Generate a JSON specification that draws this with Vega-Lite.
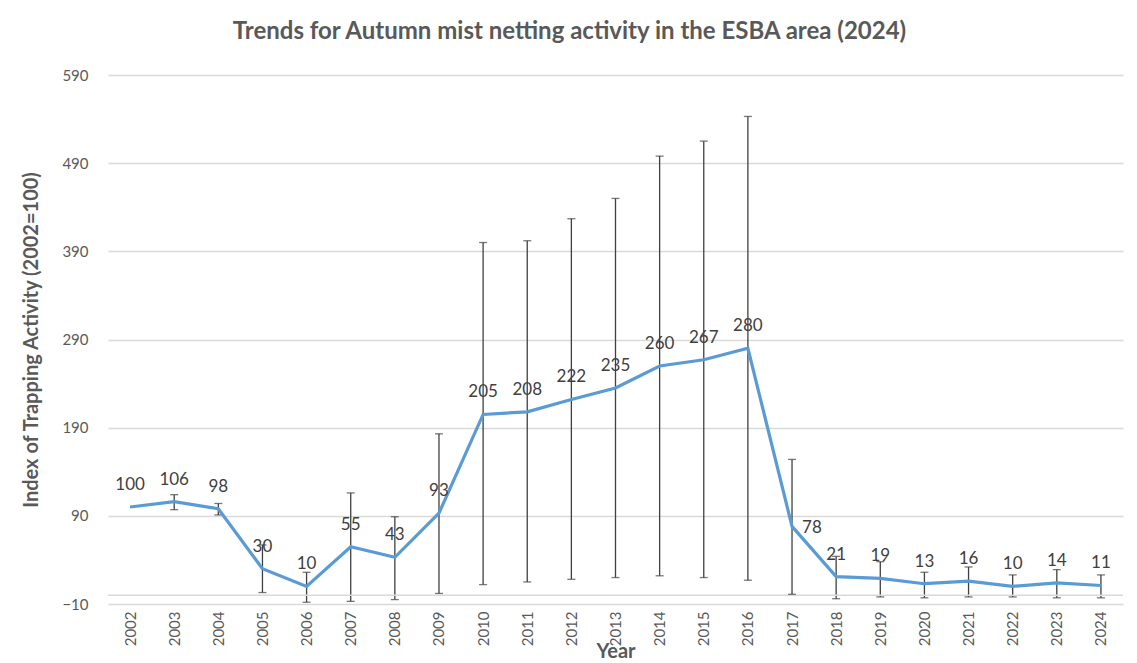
{
  "$schema": "https://vega.github.io/schema/vega-lite/v6.json",
  "autosize": "none",
  "width": 1015,
  "height": 529,
  "padding": {"left": 108, "top": 75, "right": 14, "bottom": 59},
  "background": "white",
  "config": {
    "font": "Lato",
    "view": {"stroke": null},
    "axis": {"labelColor": "#595959", "titleColor": "#595959", "labelFont": "Lato", "titleFont": "Lato"}
  },
  "title": {
    "text": "Trends for Autumn mist netting activity in the ESBA area (2024)",
    "fontSize": 24,
    "fontWeight": "bold",
    "color": "#595959",
    "font": "Lato",
    "anchor": "middle",
    "dx": -46,
    "offset": 24
  },
  "data": {
    "values": [
      {"year": "2002", "value": 100, "lo": null, "hi": null},
      {"year": "2003", "value": 106, "lo": 97, "hi": 114},
      {"year": "2004", "value": 98, "lo": 91, "hi": 104},
      {"year": "2005", "value": 30, "lo": 3, "hi": 57},
      {"year": "2006", "value": 10, "lo": -8, "hi": 26},
      {"year": "2007", "value": 55, "lo": -7, "hi": 116},
      {"year": "2008", "value": 43, "lo": -5, "hi": 89},
      {"year": "2009", "value": 93, "lo": 2, "hi": 183},
      {"year": "2010", "value": 205, "lo": 12, "hi": 400},
      {"year": "2011", "value": 208, "lo": 15, "hi": 402},
      {"year": "2012", "value": 222, "lo": 18, "hi": 427},
      {"year": "2013", "value": 235, "lo": 20, "hi": 450},
      {"year": "2014", "value": 260, "lo": 22, "hi": 498},
      {"year": "2015", "value": 267, "lo": 20, "hi": 515},
      {"year": "2016", "value": 280, "lo": 17, "hi": 543},
      {"year": "2017", "value": 78, "lo": 1, "hi": 154},
      {"year": "2018", "value": 21, "lo": -4, "hi": 44},
      {"year": "2019", "value": 19, "lo": -2, "hi": 38},
      {"year": "2020", "value": 13, "lo": -3, "hi": 26},
      {"year": "2021", "value": 16, "lo": -2, "hi": 32},
      {"year": "2022", "value": 10, "lo": -2, "hi": 23},
      {"year": "2023", "value": 14, "lo": -3, "hi": 29},
      {"year": "2024", "value": 11, "lo": -3, "hi": 23}
    ]
  },
  "encoding": {
    "x": {
      "field": "year",
      "type": "ordinal",
      "scale": {"type": "point", "padding": 0.5},
      "axis": {
        "title": "Year",
        "titleFontSize": 20,
        "titleFontWeight": "bold",
        "titlePadding": -4,
        "labelAngle": -90,
        "labelFontSize": 15,
        "labelPadding": 7,
        "domain": false,
        "ticks": false,
        "grid": false
      }
    }
  },
  "layer": [
    {
      "mark": {"type": "rule", "color": "#404040", "strokeWidth": 1.3},
      "encoding": {
        "y": {
          "field": "lo",
          "type": "quantitative",
          "scale": {"domain": [-10, 590], "nice": false, "zero": false},
          "axis": {
            "title": "Index of Trapping Activity (2002=100)",
            "titleFontSize": 20,
            "titleFontWeight": "bold",
            "titlePadding": 20,
            "values": [-10, 90, 190, 290, 390, 490, 590],
            "labelFontSize": 15,
            "labelPadding": 20,
            "domain": false,
            "ticks": false,
            "gridColor": "#d9d9d9",
            "gridWidth": 1.3
          }
        },
        "y2": {"field": "hi"}
      }
    },
    {
      "mark": {"type": "rule", "color": "#d9d9d9", "strokeWidth": 1.5},
      "data": {"values": [{"z": 0}]},
      "encoding": {"y": {"field": "z", "type": "quantitative"}, "x": null}
    },
    {
      "mark": {"type": "tick", "orient": "horizontal", "color": "#404040", "size": 8, "thickness": 1.3},
      "encoding": {"y": {"field": "lo", "type": "quantitative"}}
    },
    {
      "mark": {"type": "tick", "orient": "horizontal", "color": "#404040", "size": 8, "thickness": 1.3},
      "encoding": {"y": {"field": "hi", "type": "quantitative"}}
    },
    {
      "mark": {"type": "line", "color": "#5b9bd5", "strokeWidth": 3.2},
      "encoding": {"y": {"field": "value", "type": "quantitative"}}
    },
    {
      "transform": [{"filter": "datum.year != '2017'"}],
      "mark": {"type": "text", "fontSize": 17, "color": "#404040", "baseline": "middle", "dy": -22},
      "encoding": {"y": {"field": "value", "type": "quantitative"}, "text": {"field": "value", "type": "quantitative"}}
    },
    {
      "transform": [{"filter": "datum.year == '2017'"}],
      "mark": {"type": "text", "fontSize": 17, "color": "#404040", "baseline": "middle", "align": "left", "dx": 10, "dy": 2},
      "encoding": {"y": {"field": "value", "type": "quantitative"}, "text": {"field": "value", "type": "quantitative"}}
    }
  ]
}
